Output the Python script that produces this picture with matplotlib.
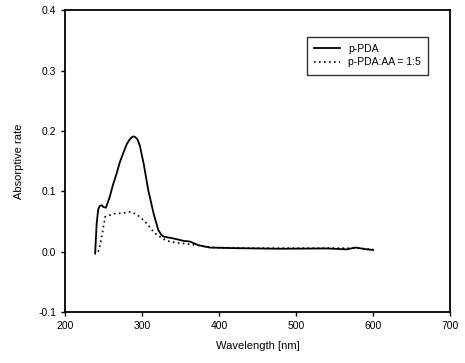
import matplotlib
matplotlib.use("Agg")
import matplotlib.pyplot as plt

plt.rcParams["font.family"] = ["Liberation Sans", "DejaVu Sans"]

# p-PDA spectrum
wl_pda = [239, 241, 243, 245, 247.6, 250, 253, 258, 262, 267, 271, 276, 280, 284, 287,
          289, 291, 294, 297, 302, 308, 315, 321, 325, 328, 341, 354, 362, 373, 380,
          388, 420, 480, 540, 566, 577, 592, 600]
abs_pda = [-0.003, 0.047, 0.070, 0.076, 0.077, 0.074, 0.073, 0.091, 0.110, 0.130, 0.148,
           0.165, 0.178, 0.186, 0.190, 0.191, 0.190, 0.186, 0.176, 0.146, 0.102, 0.063,
           0.036, 0.028, 0.025, 0.022, 0.018, 0.017, 0.011, 0.009, 0.007, 0.006, 0.005,
           0.0055, 0.004, 0.007, 0.004, 0.003]

# p-PDA:AA = 1:5 spectrum
wl_mix = [243, 246, 249, 252, 263, 274, 284, 291, 297, 306, 313, 319, 332, 345, 358,
          371, 390, 450, 520, 560, 580, 600]
abs_mix = [0.0, 0.014, 0.036, 0.058, 0.063, 0.064, 0.066, 0.063, 0.058, 0.047, 0.036,
           0.028, 0.018, 0.015, 0.013, 0.011, 0.007, 0.006, 0.006, 0.006, 0.006, 0.004]

x_ticks = [200, 300, 400, 500, 600, 700]
y_ticks = [-0.1, 0.0, 0.1, 0.2, 0.3, 0.4]

fig = plt.figure(figsize=(4.65, 3.63), dpi=100)
ax = fig.add_axes([0.14, 0.14, 0.828, 0.832])

ax.plot(wl_pda, abs_pda, color="black", lw=1.3, label="p-PDA")
ax.plot(wl_mix, abs_mix, color="black", lw=1.2, linestyle=(0, (1, 2)),
        label="p-PDA:AA = 1:5")

ax.set_xlim(200, 700)
ax.set_ylim(-0.1, 0.4)
ax.set_xticks(x_ticks)
ax.set_yticks(y_ticks)
ax.set_yticklabels([f"{v:.1f}" for v in y_ticks])
ax.tick_params(direction="out", length=3, width=1, labelsize=7.5)
for s in ax.spines.values():
    s.set_linewidth(1.3)

ax.set_xlabel("Wavelength [nm]", fontsize=8, labelpad=7)
ax.set_ylabel("Absorptive rate", fontsize=8, labelpad=10)

leg = ax.legend(loc="upper right", bbox_to_anchor=(0.957, 0.93), fontsize=7.5,
                frameon=True, fancybox=False, edgecolor="black", handlelength=2.5,
                borderpad=0.7, labelspacing=0.35)
leg.get_frame().set_linewidth(1.0)

fig.savefig("out.png", dpi=100)
